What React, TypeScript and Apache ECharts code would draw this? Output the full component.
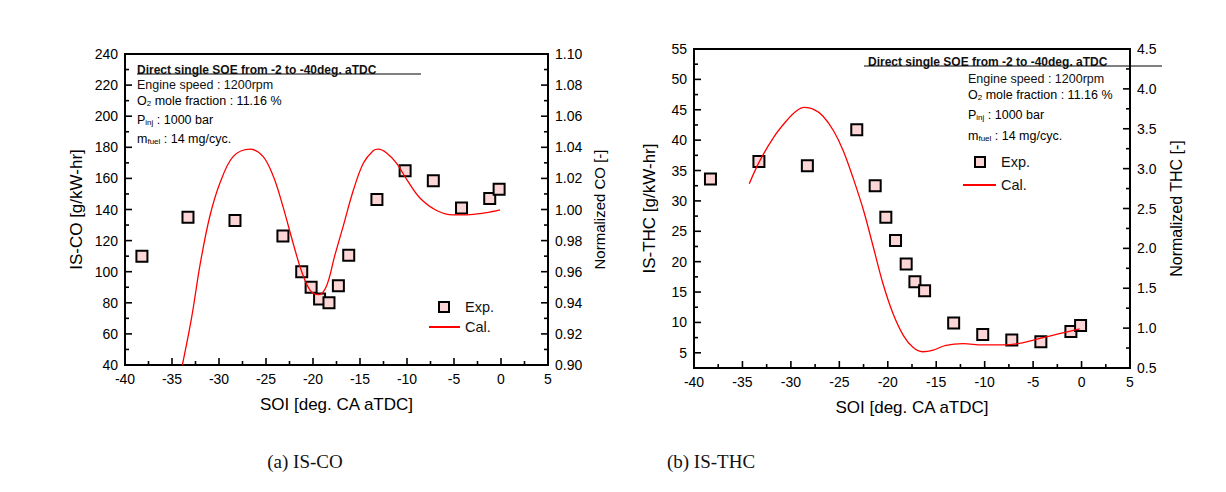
import React, { useEffect, useRef } from "react";
import * as echarts from "echarts";

// ---- data ----
const coSoi = [-38.2, -33.3, -28.3, -23.2, -21.2, -20.2, -19.3, -18.3, -17.3, -16.2, -13.2, -10.2, -7.2, -4.2, -1.2, -0.2];
const coExp = [110, 135, 133, 123, 100, 90, 82.5, 80, 91, 110.5, 146.5, 165, 158.5, 141, 147, 153];
const coCalSoi = [-33.9, -32.9, -32.0, -31.0, -29.9, -28.5, -26.7, -25.3, -24.2, -23.2, -22.1, -21.2, -20.3, -19.4, -18.55, -17.7, -16.8, -15.7, -14.65, -13.6, -13.05, -12.2, -11.1, -10.0, -8.6, -6.8, -5.1, -3.3, -1.5, -0.1];
const coCal = [0.9, 0.931, 0.965, 0.995, 1.017, 1.034, 1.0388, 1.034, 1.021, 1.002, 0.978, 0.96, 0.948, 0.9452, 0.951, 0.97, 0.989, 1.0125, 1.0297, 1.0378, 1.0388, 1.0365, 1.0297, 1.019, 1.0072, 0.9992, 0.9965, 0.9967, 0.998, 0.9997];

const thcSoi = [-38.3, -33.3, -28.3, -23.2, -21.3, -20.2, -19.2, -18.1, -17.2, -16.2, -13.2, -10.2, -7.2, -4.2, -1.1, -0.1];
const thcExp = [33.6, 36.5, 35.8, 41.7, 32.5, 27.3, 23.5, 19.6, 16.7, 15.2, 9.9, 8.0, 7.1, 6.8, 8.5, 9.5];
const thcCalSoi = [-34.3, -33.2, -31.8, -30.45, -29.4, -28.6, -27.7, -26.7, -25.6, -24.6, -23.6, -22.5, -21.5, -20.5, -19.45, -18.4, -17.4, -16.4, -15.3, -14.0, -12.2, -10.2, -8.1, -6.4, -4.3, -2.3, -0.2];
const thcCal = [2.81, 3.1, 3.39, 3.6, 3.725, 3.767, 3.746, 3.66, 3.475, 3.225, 2.89, 2.475, 2.02, 1.56, 1.18, 0.91, 0.76, 0.704, 0.725, 0.785, 0.805, 0.79, 0.79, 0.81, 0.87, 0.93, 0.99];

// ---- tick positions ----
const xMajorTicks = [-40, -35, -30, -25, -20, -15, -10, -5, 0, 5];
const xMinorTicks = [-37.5, -32.5, -27.5, -22.5, -17.5, -12.5, -7.5, -2.5, 2.5];
const coMajorTicks = [40, 60, 80, 100, 120, 140, 160, 180, 200, 220, 240];
const coMinorTicks = [50, 70, 90, 110, 130, 150, 170, 190, 210, 230];
const coNormMajorTicks = [0.9, 0.92, 0.94, 0.96, 0.98, 1.0, 1.02, 1.04, 1.06, 1.08, 1.1];
const coNormMinorTicks = [0.91, 0.93, 0.95, 0.97, 0.99, 1.01, 1.03, 1.05, 1.07, 1.09];
const thcMajorTicks = [5, 10, 15, 20, 25, 30, 35, 40, 45, 50, 55];
const thcMinorTicks = [2.5, 7.5, 12.5, 17.5, 22.5, 27.5, 32.5, 37.5, 42.5, 47.5, 52.5];
const thcNormMajorTicks = [0.5, 1.0, 1.5, 2.0, 2.5, 3.0, 3.5, 4.0, 4.5];
const thcNormMinorTicks = [0.75, 1.25, 1.75, 2.25, 2.75, 3.25, 3.75, 4.25];

const xTitle = "SOI [deg. CA aTDC]";
const annTitle = "Direct single SOE from -2 to -40deg. aTDC";

const FONT = "'Liberation Sans', Arial, sans-serif";
const BLACK = "#000";
const PINK = "#fcd6d6";
const RED = "#ff0000";

function pairs(xs: number[], ys: number[]) {
  return xs.map((x, i) => [x, ys[i]]);
}

// kind: 0 = x major, 1 = x minor, 2 = y major, 3 = y minor
function tickData(xMaj: number[], xMin: number[], yMaj: number[], yMin: number[]) {
  return [
    ...xMaj.map((v) => [v, 0]),
    ...xMin.map((v) => [v, 1]),
    ...yMaj.map((v) => [v, 2]),
    ...yMin.map((v) => [v, 3]),
  ];
}

function tickRenderer(side: "left" | "right") {
  return (params: any, api: any) => {
    const cs = params.coordSys;
    const v = api.value(0);
    const kind = api.value(1);
    const len = kind % 2 === 0 ? 7 : 4;
    let shape: any;
    if (kind < 2) {
      const px = api.coord([v, 0])[0];
      const by = cs.y + cs.height;
      shape = { x1: px, y1: by, x2: px, y2: by - len };
    } else {
      const py = api.coord([0, v])[1];
      const ax = side === "left" ? cs.x : cs.x + cs.width;
      const dir = side === "left" ? 1 : -1;
      shape = { x1: ax, y1: py, x2: ax + dir * len, y2: py };
    }
    return { type: "line", shape, style: { stroke: BLACK, lineWidth: 1.6 } };
  };
}

function axisLine() {
  return { show: true, onZero: false, lineStyle: { color: BLACK, width: 2 } };
}
function label(extra: any = {}) {
  return { fontSize: 14, color: BLACK, fontFamily: FONT, margin: 7, ...extra };
}

function xAxis(gridIndex: number) {
  return {
    type: "value",
    gridIndex,
    min: -40,
    max: 5,
    interval: 5,
    axisLine: axisLine(),
    axisTick: { show: false },
    splitLine: { show: false },
    axisLabel: label(),
    name: xTitle,
    nameLocation: "middle",
    nameGap: 31,
    nameTextStyle: { fontSize: 17, color: BLACK, fontFamily: FONT },
  };
}

function annotation(x: number, yTitle: number, lineX1: number, lineX2: number, tx: number, ys: number[], leg: { mx: number; my: number; tx: number; lx1: number; lx2: number; ly: number }) {
  const base = { fontSize: 12.5, fontFamily: FONT, fill: "#111" };
  const rich = {
    n: { fontSize: 12.5, fontFamily: FONT, color: "#111" },
    s: { fontSize: 8, fontFamily: FONT, color: "#111", verticalAlign: "bottom", padding: [5, 0, 0, 0] },
  };
  return [
    { type: "text", x, y: yTitle, style: { ...base, fontSize: 12, text: annTitle, fontWeight: "bold", verticalAlign: "middle" } },
    { type: "line", shape: { x1: lineX1, y1: yTitle + 4, x2: lineX2, y2: yTitle + 4 }, style: { stroke: BLACK, lineWidth: 1 } },
    { type: "text", x: tx, y: ys[0], style: { ...base, text: "Engine speed : 1200rpm", verticalAlign: "middle" } },
    { type: "text", x: tx, y: ys[1], style: { text: "{n|O}{s|2}{n| mole fraction : 11.16 %}", rich, verticalAlign: "middle" } },
    { type: "text", x: tx, y: ys[2], style: { text: "{n|P}{s|inj}{n| : 1000 bar}", rich, verticalAlign: "middle" } },
    { type: "text", x: tx, y: ys[3], style: { text: "{n|m}{s|fuel}{n| : 14 mg/cyc.}", rich, verticalAlign: "middle" } },
    { type: "rect", shape: { x: leg.mx - 5, y: leg.my - 5, width: 10, height: 10 }, style: { fill: PINK, stroke: BLACK, lineWidth: 2 } },
    { type: "text", x: leg.tx, y: leg.my, style: { text: "Exp.", fontSize: 14.5, fontFamily: FONT, fill: "#111", verticalAlign: "middle" } },
    { type: "line", shape: { x1: leg.lx1, y1: leg.ly, x2: leg.lx2, y2: leg.ly }, style: { stroke: RED, lineWidth: 2 } },
    { type: "text", x: leg.tx, y: leg.ly, style: { text: "Cal.", fontSize: 14.5, fontFamily: FONT, fill: "#111", verticalAlign: "middle" } },
  ];
}

export default function App() {
  const ref = useRef<HTMLDivElement>(null);
  useEffect(() => {
    if (!ref.current) return;
    const chart = echarts.init(ref.current, null, { renderer: "svg" });
    const option: any = {
      animation: false,
      grid: [
        { left: 125, top: 54, width: 423, height: 311, show: true, borderColor: BLACK, borderWidth: 2 },
        { left: 694, top: 49, width: 436, height: 319, show: true, borderColor: BLACK, borderWidth: 2 },
      ],
      xAxis: [xAxis(0), xAxis(1)],
      yAxis: [
        {
          type: "value", gridIndex: 0, position: "left", min: 40, max: 240, interval: 20,
          axisLine: axisLine(), axisTick: { show: false }, splitLine: { show: false },
          axisLabel: label(),
          name: "IS-CO [g/kW-hr]", nameLocation: "middle", nameRotate: 90, nameGap: 40,
          nameTextStyle: { fontSize: 17, color: BLACK, fontFamily: FONT },
        },
        {
          type: "value", gridIndex: 0, position: "right", min: 0.9, max: 1.1, interval: 0.02,
          axisLine: axisLine(), axisTick: { show: false }, splitLine: { show: false },
          axisLabel: label({ formatter: (v: number) => v.toFixed(2) }),
          name: "Normalized CO [-]", nameLocation: "middle", nameRotate: 90, nameGap: 44,
          nameTextStyle: { fontSize: 15, color: BLACK, fontFamily: FONT },
        },
        {
          // IS-THC: axis starts at 2.5, so step 2.5 and label only multiples of 5
          type: "value", gridIndex: 1, position: "left", min: 2.5, max: 55, interval: 2.5,
          axisLine: axisLine(), axisTick: { show: false }, splitLine: { show: false },
          axisLabel: label({ formatter: (v: number) => (Math.abs(v % 5) < 1e-6 ? String(v) : "") }),
          name: "IS-THC [g/kW-hr]", nameLocation: "middle", nameRotate: 90, nameGap: 36,
          nameTextStyle: { fontSize: 17, color: BLACK, fontFamily: FONT },
        },
        {
          type: "value", gridIndex: 1, position: "right", min: 0.5, max: 4.5, interval: 0.5,
          axisLine: axisLine(), axisTick: { show: false }, splitLine: { show: false },
          axisLabel: label({ formatter: (v: number) => v.toFixed(1) }),
          name: "Normalized THC [-]", nameLocation: "middle", nameRotate: 90, nameGap: 38,
          nameTextStyle: { fontSize: 16, color: BLACK, fontFamily: FONT },
        },
      ],
      series: [
        {
          type: "custom", name: "ticksCoL", xAxisIndex: 0, yAxisIndex: 0, silent: true, clip: false,
          data: tickData(xMajorTicks, xMinorTicks, coMajorTicks, coMinorTicks),
          renderItem: tickRenderer("left"), z: 1,
        },
        {
          type: "custom", name: "ticksCoR", xAxisIndex: 0, yAxisIndex: 1, silent: true, clip: false,
          data: tickData([], [], coNormMajorTicks, coNormMinorTicks),
          renderItem: tickRenderer("right"), z: 1,
        },
        {
          type: "custom", name: "ticksThcL", xAxisIndex: 1, yAxisIndex: 2, silent: true, clip: false,
          data: tickData(xMajorTicks, xMinorTicks, thcMajorTicks, thcMinorTicks),
          renderItem: tickRenderer("left"), z: 1,
        },
        {
          type: "custom", name: "ticksThcR", xAxisIndex: 1, yAxisIndex: 3, silent: true, clip: false,
          data: tickData([], [], thcNormMajorTicks, thcNormMinorTicks),
          renderItem: tickRenderer("right"), z: 1,
        },
        {
          type: "line", name: "Cal.", xAxisIndex: 0, yAxisIndex: 1, data: pairs(coCalSoi, coCal),
          smooth: 0.35, showSymbol: false, symbol: "none", lineStyle: { color: RED, width: 1.3 },
        },
        {
          type: "scatter", name: "Exp.", xAxisIndex: 0, yAxisIndex: 0, data: pairs(coSoi, coExp),
          symbol: "rect", symbolSize: 11, itemStyle: { color: PINK, borderColor: BLACK, borderWidth: 2, opacity: 1 },
        },
        {
          type: "line", name: "Cal.", xAxisIndex: 1, yAxisIndex: 3, data: pairs(thcCalSoi, thcCal),
          smooth: 0.35, showSymbol: false, symbol: "none", lineStyle: { color: RED, width: 1.3 },
        },
        {
          type: "scatter", name: "Exp.", xAxisIndex: 1, yAxisIndex: 2, data: pairs(thcSoi, thcExp),
          symbol: "rect", symbolSize: 11, itemStyle: { color: PINK, borderColor: BLACK, borderWidth: 2, opacity: 1 },
        },
      ],
      graphic: [
        ...annotation(137, 70, 137, 421, 137, [85, 101, 120, 139], { mx: 444, my: 307, tx: 465, lx1: 429, lx2: 460, ly: 327 }),
        ...annotation(868, 62, 864, 1162, 968, [79, 95, 115, 136], { mx: 980, my: 162, tx: 1001, lx1: 963, lx2: 996, ly: 185 }),
        { type: "text", x: 305, y: 461, style: { text: "(a) IS-CO", fontSize: 19, fontFamily: "'Liberation Serif', serif", fill: "#111", align: "center", verticalAlign: "middle" } },
        { type: "text", x: 711, y: 461, style: { text: "(b) IS-THC", fontSize: 19, fontFamily: "'Liberation Serif', serif", fill: "#111", align: "center", verticalAlign: "middle" } },
      ],
    };
    chart.setOption(option);
    return () => chart.dispose();
  }, []);
  return (
    <div
      ref={ref}
      style={{ position: "fixed", left: 0, top: 0, width: 1226, height: 492, background: "#fff" }}
    />
  );
}
